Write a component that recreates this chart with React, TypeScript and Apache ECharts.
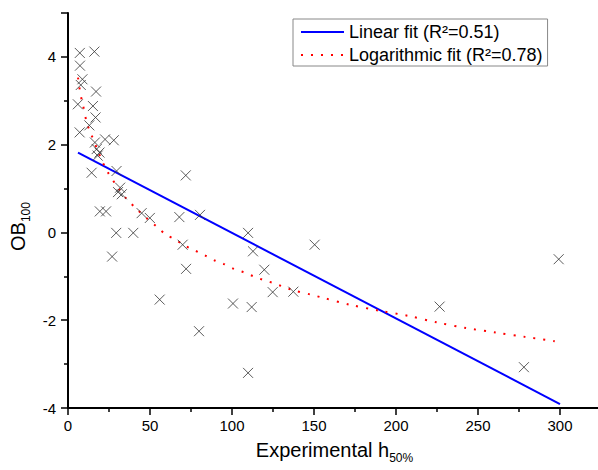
import React, { useEffect, useRef } from "react";
import * as echarts from "echarts";

// Measured points: Experimental h50% (x) and OB100 (y)
const pointX = [
  7.2, 16.1, 7.3, 8.8, 7.8, 17.1, 6.0, 15.2, 16.8, 13.0, 7.1, 16.4, 22.6, 27.9,
  17.5, 19.2, 18.1, 14.4, 29.6, 31.8, 30.5, 32.8, 19.4, 23.2, 44.9, 49.9, 67.9,
  80.5, 71.8, 29.4, 39.8, 26.9, 69.9, 72.0, 55.9, 79.9, 100.6, 112.0, 109.8,
  109.8, 112.8, 119.7, 124.8, 137.4, 150.4, 226.6, 278.0, 299.2,
];
const pointY = [
  4.09, 4.12, 3.8, 3.49, 3.36, 3.21, 2.92, 2.88, 2.62, 2.44, 2.28, 2.05, 2.12,
  2.1, 1.9, 1.82, 1.75, 1.36, 1.4, 1.02, 0.92, 0.87, 0.48, 0.48, 0.44, 0.33,
  0.35, 0.4, 1.3, -0.01, -0.01, -0.55, -0.28, -0.83, -1.53, -2.25, -1.62, -1.7,
  -3.2, -0.01, -0.43, -0.85, -1.36, -1.35, -0.28, -1.69, -3.07, -0.61,
];

// Linear fit line (read endpoints)
const linearX = [6.1, 300];
const linearY = [1.82, -3.91];

// Logarithmic fit curve
const logX = [
  6.1, 7.6, 8.8, 11.6, 13.6, 18.3, 20.4, 24, 29.5, 35.6, 41.7, 47.8, 53.9, 59.4,
  65.7, 71.2, 77.3, 83.4, 89.5, 95.1, 101.2, 107.3, 113.2, 118.9, 125, 130.7,
  136.8, 148.4, 154.5, 172.2, 189.5, 207.3, 225, 242.9, 260.8, 278.9, 296.8,
];
const logY = [
  3.53, 3.15, 2.96, 2.48, 2.29, 1.85, 1.66, 1.39, 1.07, 0.77, 0.54, 0.33, 0.14,
  -0.04, -0.17, -0.3, -0.41, -0.52, -0.64, -0.72, -0.83, -0.91, -1.0, -1.08,
  -1.15, -1.23, -1.31, -1.42, -1.48, -1.65, -1.78, -1.9, -2.05, -2.18, -2.28,
  -2.38, -2.48,
];

const seriesNames = ["Linear fit (R²=0.51)", "Logarithmic fit (R²=0.78)"];

const FONT = "'Liberation Sans', Arial, sans-serif";

export default function App() {
  const ref = useRef<HTMLDivElement>(null);

  useEffect(() => {
    document.body.style.margin = "0";
    document.body.style.overflow = "hidden";
    if (!ref.current) return;
    const chart = echarts.init(ref.current, undefined, { renderer: "svg" });
    const axisCommon = {
      type: "value" as const,
      splitLine: { show: false },
      axisLine: { show: true, onZero: false, lineStyle: { color: "#000", width: 2 } },
      axisTick: { show: true, inside: false, length: 7, lineStyle: { color: "#000", width: 1.5 } },
      minorTick: { show: true, splitNumber: 2, length: 4, lineStyle: { color: "#000", width: 1.5 } },
      axisLabel: {
        color: "#000",
        fontSize: 15,
        fontFamily: FONT,
        showMaxLabel: false,
      },
    };
    chart.setOption({
      animation: false,
      backgroundColor: "#fff",
      textStyle: { fontFamily: FONT },
      grid: {
        left: 68,
        top: 13,
        right: -3,
        bottom: 62,
        containLabel: false,
        outerBoundsMode: "none",
      },
      legend: {
        data: seriesNames,
        orient: "vertical",
        left: 293,
        top: 19,
        padding: [4, 5, 2, 7],
        itemGap: 5,
        itemWidth: 43,
        itemHeight: 14,
        borderColor: "#888",
        borderWidth: 1,
        backgroundColor: "#fff",
        itemStyle: { color: "transparent", borderWidth: 0, opacity: 0 },
        textStyle: { fontSize: 18, color: "#000", fontFamily: FONT },
      },
      xAxis: {
        ...axisCommon,
        min: 0,
        max: 325,
        interval: 50,
        axisLabel: { ...axisCommon.axisLabel, margin: 10 },
        name: "{a|Experimental h}{b|50%}",
        nameLocation: "middle",
        nameGap: 28,
        nameTextStyle: {
          rich: {
            a: { fontSize: 20, color: "#000", fontFamily: FONT },
            b: { fontSize: 12, color: "#000", fontFamily: FONT, padding: [16, 0, 0, 0] },
          },
        },
      },
      yAxis: {
        ...axisCommon,
        min: -4,
        max: 5,
        interval: 2,
        axisLabel: { ...axisCommon.axisLabel, margin: 12 },
        name: "{a|OB}{b|100}",
        nameLocation: "middle",
        nameRotate: 90,
        nameGap: 27,
        nameTextStyle: {
          padding: [0, 32, 0, 0],
          rich: {
            a: { fontSize: 20, color: "#000", fontFamily: FONT },
            b: { fontSize: 12, color: "#000", fontFamily: FONT, padding: [16, 0, 0, 0] },
          },
        },
      },
      series: [
        {
          type: "scatter",
          name: "data",
          data: pointX.map((x, i) => [x, pointY[i]]),
          symbol: "path://M0,0L10,10M10,0L0,10",
          symbolSize: 10,
          itemStyle: { color: "transparent", borderColor: "#333", borderWidth: 1 },
          z: 3,
        },
        {
          type: "line",
          name: seriesNames[0],
          data: linearX.map((x, i) => [x, linearY[i]]),
          showSymbol: false,
          symbol: "none",
          lineStyle: { color: "#0000ff", width: 2 },
          itemStyle: { color: "#0000ff" },
          z: 2,
        },
        {
          type: "line",
          name: seriesNames[1],
          data: logX.map((x, i) => [x, logY[i]]),
          showSymbol: false,
          symbol: "none",
          smooth: 0.3,
          lineStyle: { color: "#ff0000", width: 2, type: [2, 8] },
          itemStyle: { color: "#ff0000" },
          z: 2,
        },
      ],
    });
    return () => chart.dispose();
  }, []);

  return (
    <div
      ref={ref}
      style={{
        position: "absolute",
        left: 0,
        top: 0,
        width: 598,
        height: 470,
        overflow: "hidden",
      }}
    />
  );
}
